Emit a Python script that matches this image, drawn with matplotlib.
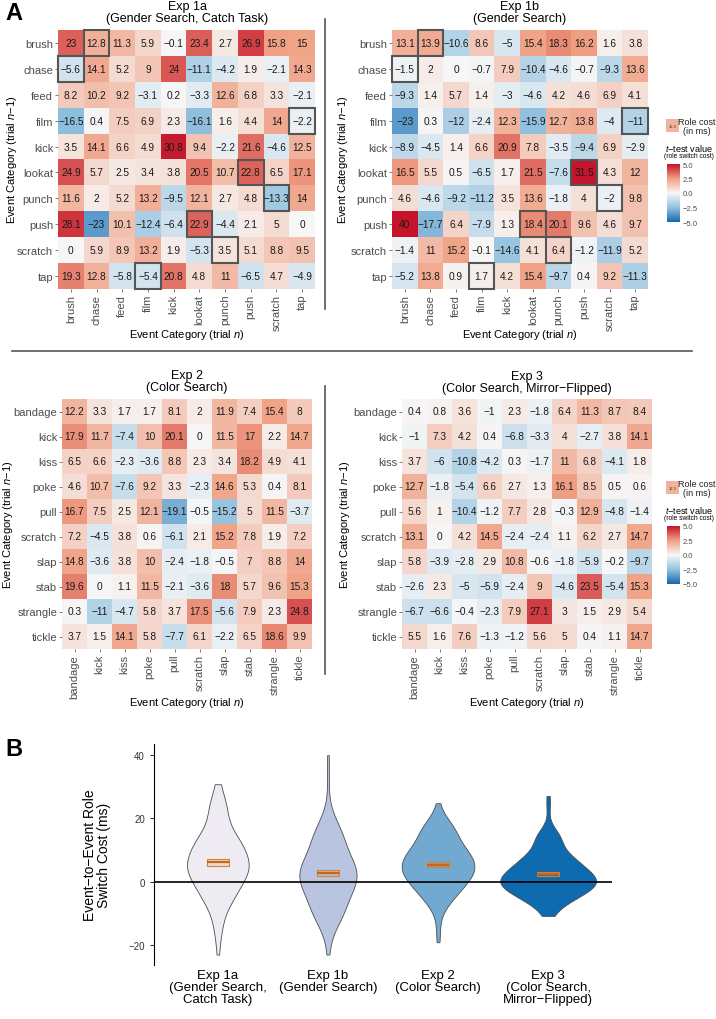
import numpy as np
import matplotlib
matplotlib.use('Agg')
import matplotlib.pyplot as plt
from matplotlib.colors import LinearSegmentedColormap, Normalize
from matplotlib.patches import Rectangle
from matplotlib.cm import ScalarMappable

plt.rcParams['font.family'] = ['Liberation Sans', 'DejaVu Sans']
plt.rcParams['mathtext.fontset'] = 'custom'
plt.rcParams['mathtext.it'] = 'Liberation Sans:italic'
plt.rcParams['mathtext.rm'] = 'Liberation Sans'

# ---- data (role cost in ms, rows = trial n-1, cols = trial n) ----
cats1 = ['brush', 'chase', 'feed', 'film', 'kick', 'lookat', 'punch', 'push', 'scratch', 'tap']
cats2 = ['bandage', 'kick', 'kiss', 'poke', 'pull', 'scratch', 'slap', 'stab', 'strangle', 'tickle']

exp1a = [
    [23, 12.8, 11.3, 5.9, -0.1, 23.4, 2.7, 26.9, 15.8, 15],
    [-5.6, 14.1, 5.2, 9, 24, -11.1, -4.2, 1.9, -2.1, 14.3],
    [8.2, 10.2, 9.2, -3.1, 0.2, -3.3, 12.6, 6.8, 3.3, -2.1],
    [-16.5, 0.4, 7.5, 6.9, 2.3, -16.1, 1.6, 4.4, 14, -2.2],
    [3.5, 14.1, 6.6, 4.9, 30.8, 9.4, -2.2, 21.6, -4.6, 12.5],
    [24.9, 5.7, 2.5, 3.4, 3.8, 20.5, 10.7, 22.8, 6.5, 17.1],
    [11.6, 2, 5.2, 13.2, -9.5, 12.1, 2.7, 4.8, -13.3, 14],
    [28.1, -23, 10.1, -12.4, -6.4, 22.9, -4.4, 2.1, 5, 0],
    [0, 5.9, 8.9, 13.2, 1.9, -5.3, 3.5, 5.1, 8.8, 9.5],
    [19.3, 12.8, -5.8, -5.4, 20.8, 4.8, 11, -6.5, 4.7, -4.9],
]
exp1b = [
    [13.1, 13.9, -10.6, 8.6, -5, 15.4, 18.3, 16.2, 1.6, 3.8],
    [-1.5, 2, 0, -0.7, 7.9, -10.4, -4.6, -0.7, -9.3, 13.6],
    [-9.3, 1.4, 5.7, 1.4, -3, -4.6, 4.2, 4.6, 6.9, 4.1],
    [-23, 0.3, -12, -2.4, 12.3, -15.9, 12.7, 13.8, -4, -11],
    [-8.9, -4.5, 1.4, 6.6, 20.9, 7.8, -3.5, -9.4, 6.9, -2.9],
    [16.5, 5.5, 0.5, -6.5, 1.7, 21.5, -7.6, 31.5, 4.3, 12],
    [4.6, -4.6, -9.2, -11.2, 3.5, 13.6, -1.8, 4, -2, 9.8],
    [40, -17.7, 6.4, -7.9, 1.3, 18.4, 20.1, 9.6, 4.6, 9.7],
    [-1.4, 11, 15.2, -0.1, -14.6, 4.1, 6.4, -1.2, -11.9, 5.2],
    [-5.2, 13.8, 0.9, 1.7, 4.2, 15.4, -9.7, 0.4, 9.2, -11.3],
]
exp2 = [
    [12.2, 3.3, 1.7, 1.7, 8.1, 2, 11.9, 7.4, 15.4, 8],
    [17.9, 11.7, -7.4, 10, 20.1, 0, 11.5, 17, 2.2, 14.7],
    [6.5, 6.6, -2.3, -3.6, 8.8, 2.3, 3.4, 18.2, 4.9, 4.1],
    [4.6, 10.7, -7.6, 9.2, 3.3, -2.3, 14.6, 5.3, 0.4, 8.1],
    [16.7, 7.5, 2.5, 12.1, -19.1, -0.5, -15.2, 5, 11.5, -3.7],
    [7.2, -4.5, 3.8, 0.6, -6.1, 2.1, 15.2, 7.8, 1.9, 7.2],
    [14.8, -3.6, 3.8, 10, -2.4, -1.8, -0.5, 7, 8.8, 14],
    [19.6, 0, 1.1, 11.5, -2.1, -3.6, 18, 5.7, 9.6, 15.3],
    [0.3, -11, -4.7, 5.8, 3.7, 17.5, -5.6, 7.9, 2.3, 24.8],
    [3.7, 1.5, 14.1, 5.8, -7.7, 6.1, -2.2, 6.5, 18.6, 9.9],
]
exp3 = [
    [0.4, 0.8, 3.6, -1, 2.3, -1.8, 6.4, 11.3, 8.7, 8.4],
    [-1, 7.3, 4.2, 0.4, -6.8, -3.3, 4, -2.7, 3.8, 14.1],
    [3.7, -6, -10.8, -4.2, 0.3, -1.7, 11, 6.8, -4.1, 1.8],
    [12.7, -1.8, -5.4, 6.6, 2.7, 1.3, 16.1, 8.5, 0.5, 0.6],
    [5.6, 1, -10.4, -1.2, 7.7, 2.8, -0.3, 12.9, -4.8, -1.4],
    [13.1, 0, 4.2, 14.5, -2.4, -2.4, 1.1, 6.2, 2.7, 14.7],
    [5.8, -3.9, -2.8, 2.9, 10.8, -0.6, -1.8, -5.9, -0.2, -9.7],
    [-2.6, 2.3, -5, -5.9, -2.4, 9, -4.6, 23.5, -5.4, 15.3],
    [-6.7, -6.6, -0.4, -2.3, 7.9, 27.1, 3, 1.5, 2.9, 5.4],
    [5.5, 1.6, 7.6, -1.3, -1.2, 5.6, 5, 0.4, 1.1, 14.7],
]
# cells outlined in Exp 1a / 1b (row, col)
boxed = [('brush', 'chase'), ('chase', 'brush'), ('film', 'tap'), ('tap', 'film'),
         ('lookat', 'push'), ('push', 'lookat'), ('punch', 'scratch'), ('scratch', 'punch')]

exp_labels = ['Exp 1a\n(Gender Search,\nCatch Task)', 'Exp 1b\n(Gender Search)',
              'Exp 2\n(Color Search)', 'Exp 3\n(Color Search,\nMirror\u2212Flipped)']
violin_colors = ['#eeebf3', '#b9c5e0', '#72a9d1', '#0e6bb0']

W, H = 716, 1020
fig = plt.figure(figsize=(7.16, 10.2), dpi=100)


def px(x0, y0, x1, y1):
    return [x0 / W, 1 - y1 / H, (x1 - x0) / W, (y1 - y0) / H]


def ftext(x, y, s, **kw):
    return fig.text(x / W, 1 - y / H, s, **kw)


cmap = LinearSegmentedColormap.from_list('rb', ['#1568b0', '#92c1df', '#f7f7f7', '#f0a083', '#c4132a'])
norm = Normalize(-32, 32, clip=True)
grey = '#4d4d4d'


def heatmap(rect, vals, cats, box_cells):
    ax = fig.add_axes(rect)
    v = np.array(vals, dtype=float)
    ax.imshow(v, cmap=cmap, norm=norm, aspect='auto', interpolation='nearest')
    for i in range(len(cats)):
        for j in range(len(cats)):
            ax.text(j, i, f'{v[i, j]:g}'.replace('-', '\u2212'), ha='center', va='center',
                    fontsize=7.3, color='#1a1a1a')
    for r, c in box_cells:
        i, j = cats.index(r), cats.index(c)
        ax.add_patch(Rectangle((j - 0.5, i - 0.5), 1, 1, fill=False, ec='#555555', lw=1.5, clip_on=False))
    ax.set_xticks(range(len(cats)))
    ax.set_xticklabels(cats, rotation=90)
    ax.set_yticks(range(len(cats)))
    ax.set_yticklabels(cats)
    ax.tick_params(length=2.5, width=0.6, color='#666666', labelcolor=grey, labelsize=8, pad=1)
    for s in ax.spines.values():
        s.set_visible(False)
    return ax


def legend(ytop):
    sq = fig.add_axes(px(666, ytop, 679, ytop + 13))
    sq.set_facecolor(cmap(norm(12.3)))
    sq.text(0.5, 0.5, '12.3', fontsize=3, ha='center', va='center', color='#333333')
    sq.set_xticks([])
    sq.set_yticks([])
    for s in sq.spines.values():
        s.set_visible(False)
    ftext(697, ytop + 7, 'Role cost\n(in ms)', fontsize=6.5, ha='center', va='center',
          linespacing=0.9, color='#222222')
    ftext(689, ytop + 29, '$\\mathit{t}$\u2212test value', fontsize=6.5, ha='center', va='center')
    ftext(689, ytop + 37, '(role switch cost)', fontsize=4.8, ha='center', va='center')
    cax = fig.add_axes(px(667, ytop + 45, 680, ytop + 103))
    cb = fig.colorbar(ScalarMappable(Normalize(-5, 5), cmap), cax=cax, ticks=[-5, -2.5, 0, 2.5, 5])
    cb.set_ticklabels(['\u22125.0', '\u22122.5', '0.0', '2.5', '5.0'])
    cb.outline.set_visible(False)
    cax.tick_params(length=0, labelsize=5.5, labelcolor=grey, pad=2)


# ---- panel A ----
ftext(14, 13, 'A', fontsize=17, fontweight='bold', ha='center', va='center')

heatmap(px(58, 31, 315, 290), exp1a, cats1, boxed)
heatmap(px(392, 31, 648, 290), exp1b, cats1, boxed)
heatmap(px(62, 400, 312, 650), exp2, cats2, [])
heatmap(px(402, 400, 652, 650), exp3, cats2, [])

title_kw = dict(fontsize=9, ha='center', va='center', linespacing=1.05)
ftext(187, 13, 'Exp 1a\n(Gender Search, Catch Task)', **title_kw)
ftext(520, 13, 'Exp 1b\n(Gender Search)', **title_kw)
ftext(187, 382, 'Exp 2\n(Color Search)', **title_kw)
ftext(527, 383, 'Exp 3\n(Color Search, Mirror\u2212Flipped)', **title_kw)

ylab = 'Event Category (trial $\\mathit{n}$\u22121)'
xlab = 'Event Category (trial $\\mathit{n}$)'
lab_kw = dict(fontsize=8, ha='center', va='center')
ftext(12, 160, ylab, rotation=90, **lab_kw)
ftext(343, 160, ylab, rotation=90, **lab_kw)
ftext(8, 525, ylab, rotation=90, **lab_kw)
ftext(345, 525, ylab, rotation=90, **lab_kw)
ftext(187, 335, xlab, **lab_kw)
ftext(520, 335, xlab, **lab_kw)
ftext(187, 703, xlab, **lab_kw)
ftext(527, 703, xlab, **lab_kw)

legend(120)
legend(482)

# divider lines
line_kw = dict(color='#555555', lw=1.2)
fig.add_artist(plt.Line2D([325 / W, 325 / W], [1 - 20 / H, 1 - 310 / H], **line_kw))
fig.add_artist(plt.Line2D([12 / W, 692 / W], [1 - 352 / H, 1 - 352 / H], **line_kw))
fig.add_artist(plt.Line2D([325 / W, 325 / W], [1 - 387 / H, 1 - 675 / H], **line_kw))

# ---- panel B ----
ftext(14, 750, 'B', fontsize=17, fontweight='bold', ha='center', va='center')

narrow = ['Liberation Sans Narrow', 'Liberation Sans', 'DejaVu Sans']
data = [np.array(e, dtype=float).ravel() for e in (exp1a, exp1b, exp2, exp3)]
pos = np.arange(1, 5)
vax = fig.add_axes(px(154, 745, 612, 966))
parts = vax.violinplot(data, positions=pos, widths=[0.56, 0.52, 0.66, 0.87],
                       showextrema=False, bw_method='silverman')
for body, c in zip(parts['bodies'], violin_colors):
    body.set_facecolor(c)
    body.set_edgecolor('#4d4d4d')
    body.set_linewidth(0.6)
    body.set_alpha(1)

means = np.array([d.mean() for d in data])
se = np.array([d.std(ddof=1) / np.sqrt(len(d)) for d in data])
vax.bar(pos, 2 * se, bottom=means - se, width=0.2, facecolor=(0.85, 0.5, 0.15, 0.15),
        edgecolor='#d9822b', lw=0.8, zorder=3)
vax.hlines(means, pos - 0.1, pos + 0.1, color='#c8651b', lw=1.6, zorder=4)
vax.axhline(0, color='black', lw=1.2, zorder=2)

vax.set_xlim(0.42, 4.58)
vax.set_ylim(-26.3, 43.5)
vax.set_yticks([-20, 0, 20, 40])
vax.set_yticklabels(['\u221220', '0', '20', '40'], family=narrow)
vax.set_xticks(pos)
vax.set_xticklabels(exp_labels, family=narrow, fontsize=9.5, linespacing=1.0)
vax.tick_params(axis='x', length=0, pad=3)
vax.tick_params(axis='y', length=3, width=0.6, labelsize=7, labelcolor='#333333')
for s in ('top', 'right', 'bottom'):
    vax.spines[s].set_visible(False)
vax.spines['left'].set_linewidth(0.8)
vax.set_ylabel('Event\u2212to\u2212Event Role\nSwitch Cost (ms)', fontsize=10, linespacing=1.0)
vax.yaxis.set_label_coords(-0.094, 0.5)

fig.savefig('out.png', dpi=100)
